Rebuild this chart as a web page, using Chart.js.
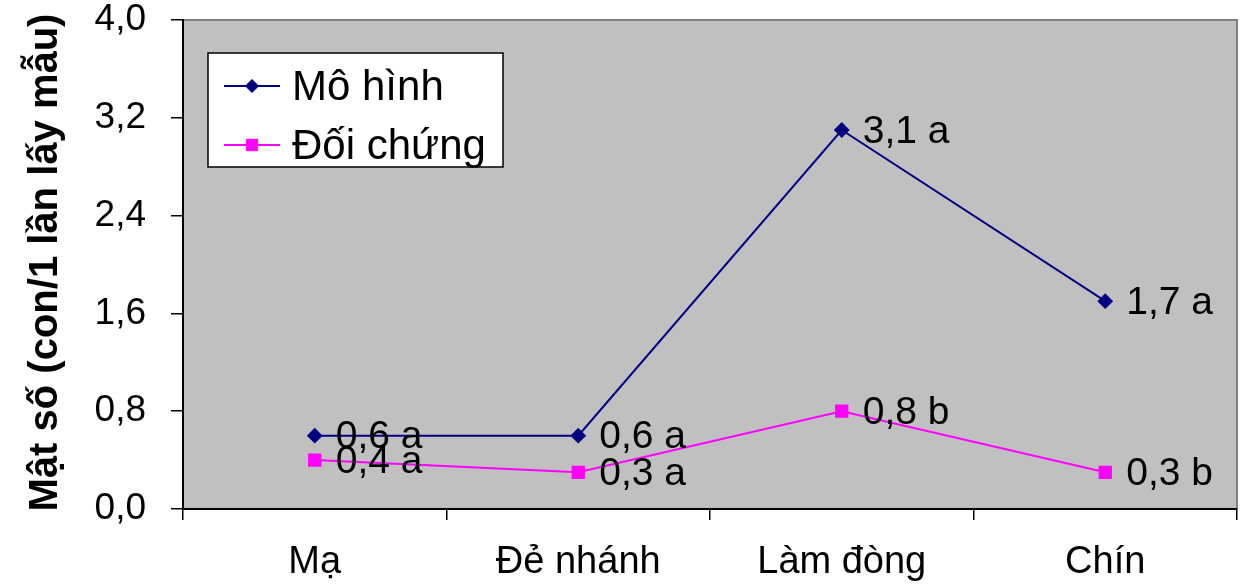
<!DOCTYPE html>
<html lang="vi">
<head>
<meta charset="utf-8">
<title>Mật số theo giai đoạn</title>
<script src="https://cdn.jsdelivr.net/npm/chart.js@4.4.1/dist/chart.umd.min.js"></script>
<style>
  html, body { margin: 0; padding: 0; background: #ffffff; }
  #wrap { width: 1247px; height: 584px; }
</style>
</head>
<body>
<div id="wrap"><canvas id="chart" width="1247" height="584"></canvas></div>
<script>
// Growth stages along the x axis
const stages = ['Mạ', 'Đẻ nhánh', 'Làm đòng', 'Chín'];

// Density per sampling (con/1 lần lấy mẫu)
const moHinh = [0.6, 0.6, 3.1, 1.7];
const doiChung = [0.4, 0.3, 0.8, 0.3];

// Statistical grouping letters printed beside each value
const moHinhLetters = ['a', 'a', 'a', 'a'];
const doiChungLetters = ['a', 'a', 'b', 'b'];

// Y axis ticks
const yTicks = [0, 0.8, 1.6, 2.4, 3.2, 4.0];

const seriesNames = ['Mô hình', 'Đối chứng'];
const yTitle = 'Mật số (con/1 lần lấy mẫu)';

const FONT = '"Liberation Sans", Arial, Helvetica, sans-serif';
const fmt = v => v.toFixed(1).replace('.', ',');

// Gray plot background with a thin gray frame on top/right
const plotBackground = {
  id: 'plotBackground',
  beforeDraw(chart) {
    const { ctx, chartArea: a } = chart;
    ctx.save();
    ctx.fillStyle = '#c0c0c0';
    ctx.fillRect(a.left, a.top, a.right - a.left, a.bottom - a.top);
    ctx.strokeStyle = '#808080';
    ctx.lineWidth = 2;
    ctx.beginPath();
    ctx.moveTo(a.left, a.top);
    ctx.lineTo(a.right, a.top);
    ctx.lineTo(a.right, a.bottom);
    ctx.stroke();
    ctx.restore();
  }
};

// Rotated y-axis title
const yAxisTitle = {
  id: 'yAxisTitle',
  afterDraw(chart) {
    const { ctx, chartArea: a } = chart;
    ctx.save();
    ctx.translate(46, (a.top + a.bottom) / 2 - 2);
    ctx.rotate(-Math.PI / 2);
    ctx.font = 'bold 40px ' + FONT;
    ctx.fillStyle = '#000';
    ctx.textAlign = 'center';
    ctx.textBaseline = 'middle';
    ctx.fillText(yTitle, 0, 0);
    ctx.restore();
  }
};

// Value + letter labels right of each point
const pointLabels = {
  id: 'pointLabels',
  afterDatasetsDraw(chart) {
    const { ctx } = chart;
    ctx.save();
    ctx.font = '39px ' + FONT;
    ctx.fillStyle = '#000';
    ctx.textAlign = 'left';
    ctx.textBaseline = 'middle';
    chart.data.datasets.forEach((ds, i) => {
      const meta = chart.getDatasetMeta(i);
      meta.data.forEach((pt, j) => {
        ctx.fillText(fmt(ds.data[j]) + ' ' + ds.letters[j], pt.x + 21, pt.y + 2);
      });
    });
    ctx.restore();
  }
};

// Boxed legend inside the plot area
const boxedLegend = {
  id: 'boxedLegend',
  afterDraw(chart) {
    const { ctx, chartArea: a } = chart;
    const x = a.left + 25, y = a.top + 33, w = 295, h = 114;
    ctx.save();
    ctx.fillStyle = '#fff';
    ctx.fillRect(x, y, w, h);
    ctx.strokeStyle = '#000';
    ctx.lineWidth = 1.5;
    ctx.strokeRect(x, y, w, h);
    ctx.font = '42px ' + FONT;
    ctx.textBaseline = 'middle';
    ctx.textAlign = 'left';
    chart.data.datasets.forEach((ds, i) => {
      const cy = y + 33 + i * 59;
      ctx.strokeStyle = ds.borderColor;
      ctx.lineWidth = ds.borderWidth;
      ctx.beginPath();
      ctx.moveTo(x + 16, cy);
      ctx.lineTo(x + 72, cy);
      ctx.stroke();
      ctx.fillStyle = ds.pointBackgroundColor;
      ctx.strokeStyle = ds.pointBorderColor;
      ctx.lineWidth = 1;
      Chart.helpers.drawPoint(ctx, {
        pointStyle: ds.pointStyle,
        radius: ds.pointRadius,
        rotation: 0,
        borderWidth: 1
      }, x + 44, cy);
      ctx.fillStyle = '#000';
      ctx.fillText(ds.label, x + 84, cy + 2);
    });
    ctx.restore();
  }
};

const ctx = document.getElementById('chart');
new Chart(ctx, {
  type: 'line',
  data: {
    labels: stages,
    datasets: [
      {
        label: seriesNames[0],
        data: moHinh,
        letters: moHinhLetters,
        borderColor: '#000080',
        backgroundColor: '#000080',
        borderWidth: 2,
        pointStyle: 'rectRot',
        pointRadius: 6.5,
        pointBackgroundColor: '#000080',
        pointBorderColor: '#000080',
        tension: 0
      },
      {
        label: seriesNames[1],
        data: doiChung,
        letters: doiChungLetters,
        borderColor: '#ff00ff',
        backgroundColor: '#ff00ff',
        borderWidth: 2,
        pointStyle: 'rect',
        pointRadius: 8,
        pointBackgroundColor: '#ff00ff',
        pointBorderColor: '#ff00ff',
        tension: 0
      }
    ]
  },
  options: {
    responsive: false,
    animation: false,
    layout: { padding: { top: 20, right: 4, left: 0, bottom: 0 } },
    plugins: {
      legend: { display: false },
      tooltip: { enabled: false }
    },
    scales: {
      x: {
        offset: true,
        grid: {
          offset: true,
          drawOnChartArea: false,
          drawTicks: true,
          tickLength: 11,
          color: '#000',
          lineWidth: 1.5
        },
        border: { color: '#000', width: 2 },
        ticks: {
          color: '#000',
          font: { family: FONT, size: 38 },
          padding: 20,
          maxRotation: 0
        },
        afterFit(s) {
          s.height = 75;
          s.paddingLeft = 0;
          s.paddingRight = 0;
        }
      },
      y: {
        min: 0,
        max: 4,
        afterBuildTicks(s) { s.ticks = yTicks.map(v => ({ value: v })); },
        grid: {
          drawOnChartArea: false,
          drawTicks: true,
          tickLength: 12,
          color: '#000',
          lineWidth: 1.5
        },
        border: { color: '#000', width: 2 },
        ticks: {
          color: '#000',
          font: { family: FONT, size: 37 },
          padding: 25,
          callback: v => fmt(v)
        },
        afterFit(s) {
          s.width = 183;
          s.paddingTop = 0;
          s.paddingBottom = 0;
        }
      }
    }
  },
  plugins: [plotBackground, pointLabels, boxedLegend, yAxisTitle]
});
</script>
</body>
</html>
